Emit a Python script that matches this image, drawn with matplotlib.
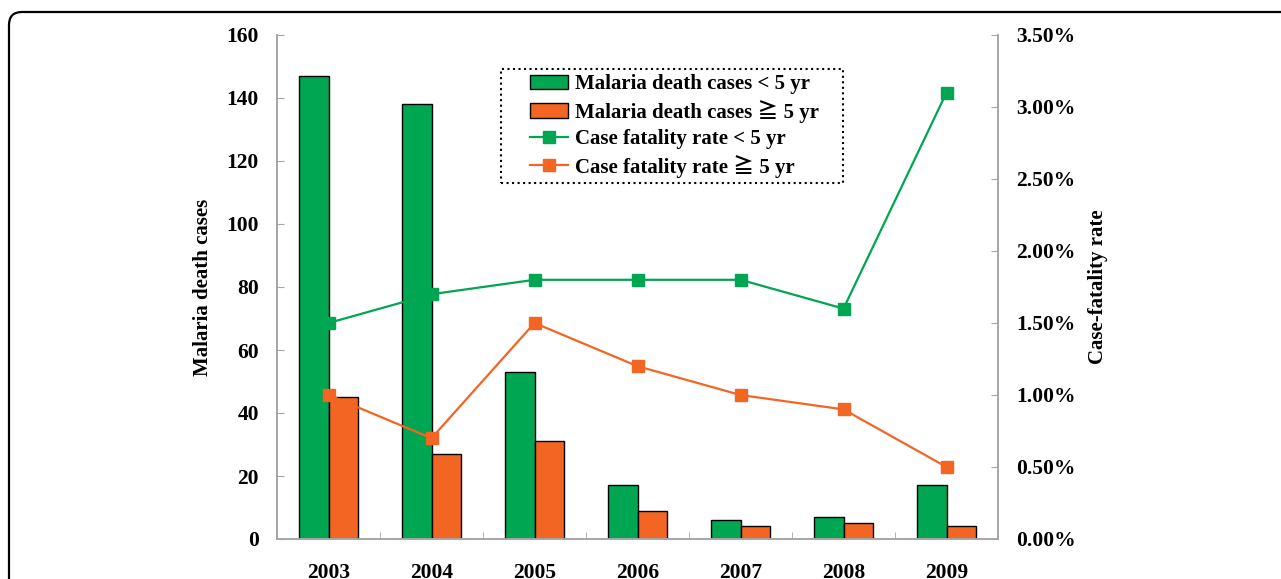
import matplotlib.pyplot as plt
from matplotlib.patches import FancyBboxPatch, Rectangle
from matplotlib.ticker import FuncFormatter, FixedLocator
import numpy as np

years = ['2003', '2004', '2005', '2006', '2007', '2008', '2009']
deaths_under5 = [147, 138, 53, 17, 6, 7, 17]
deaths_over5 = [45, 27, 31, 9, 4, 5, 4]
cfr_under5 = [1.50, 1.70, 1.80, 1.80, 1.80, 1.60, 3.10]
cfr_over5 = [1.00, 0.70, 1.50, 1.20, 1.00, 0.90, 0.50]

green = '#00a651'
orange = '#f26522'
grey = '#a6a6a6'

plt.rcParams['font.family'] = ['Liberation Serif', 'DejaVu Serif', 'Noto Sans CJK JP']
plt.rcParams['font.weight'] = 'bold'
plt.rcParams['font.size'] = 15.5

fig = plt.figure(figsize=(12.81, 5.79), dpi=100)

# outer rounded frame (cropped at right and bottom)
frame = FancyBboxPatch((0.09, -1.0), 14.0, 6.67, boxstyle='round,pad=0,rounding_size=0.13',
                       transform=fig.dpi_scale_trans, fill=False, edgecolor='black',
                       linewidth=1.6, clip_on=False)
fig.patches.append(frame)

ax = fig.add_axes([277 / 1281, 40 / 579, 721 / 1281, 504 / 579])
ax2 = ax.twinx()

x = np.arange(len(years))
w = 0.29
b1 = ax.bar(x - w / 2, deaths_under5, w, color=green, edgecolor='black', linewidth=1,
            label='Malaria death cases < 5 yr')
b2 = ax.bar(x + w / 2, deaths_over5, w, color=orange, edgecolor='black', linewidth=1,
            label='Malaria death cases \u2267 5 yr')

l1, = ax2.plot(x, cfr_under5, color=green, marker='s', markersize=8.5, linewidth=1.6,
               label='Case fatality rate < 5 yr')
l2, = ax2.plot(x, cfr_over5, color=orange, marker='s', markersize=8.5, linewidth=1.6,
               label='Case fatality rate \u2267 5 yr')

ax.set_xlim(-0.5, 6.5)
ax.set_ylim(0, 160)
ax.set_yticks(range(0, 161, 20))
ax2.set_ylim(0, 3.5)
ax2.set_yticks(np.arange(0, 3.51, 0.5))
ax2.yaxis.set_major_formatter(FuncFormatter(lambda v, p: '%.2f%%' % v))

ax.set_xticks(x)
ax.set_xticklabels(years)
ax.xaxis.set_minor_locator(FixedLocator(np.arange(-0.5, 6.6, 1)))
ax.tick_params(axis='x', which='major', length=0, pad=17)
ax.tick_params(axis='x', which='minor', length=5, direction='in', color=grey)
ax.tick_params(axis='y', direction='in', length=5, color=grey, pad=13)
ax2.tick_params(axis='y', direction='in', length=5, color=grey, pad=13)

for a in (ax, ax2):
    a.spines['top'].set_visible(False)
    for s in ('left', 'right', 'bottom'):
        a.spines[s].set_color(grey)
        a.spines[s].set_linewidth(1.2)

ax.set_ylabel('Malaria death cases', fontweight='bold', fontsize=15)
ax.yaxis.set_label_coords(-0.089, 0.5)
ax2.set_ylabel('Case-fatality rate', fontweight='bold', fontsize=15)
ax2.yaxis.set_label_coords(1.125, 0.5)

# dotted legend box drawn separately so its size matches the original
box = Rectangle((0.311, 0.706), 0.474, 0.2265, transform=ax2.transAxes, facecolor='white',
                edgecolor='black', linestyle=':', linewidth=1.5, zorder=4.5)
ax2.add_patch(box)

leg = ax2.legend([b1, b2, l1, l2], [b1.get_label(), b2.get_label(), l1.get_label(), l2.get_label()],
                 loc='upper left', bbox_to_anchor=(0.351, 0.922), frameon=False,
                 borderpad=0, labelspacing=0.28, handlelength=1.8, handletextpad=0.35,
                 borderaxespad=0, fontsize=15)
leg.set_zorder(5)

fig.savefig('out.png', dpi=100)
